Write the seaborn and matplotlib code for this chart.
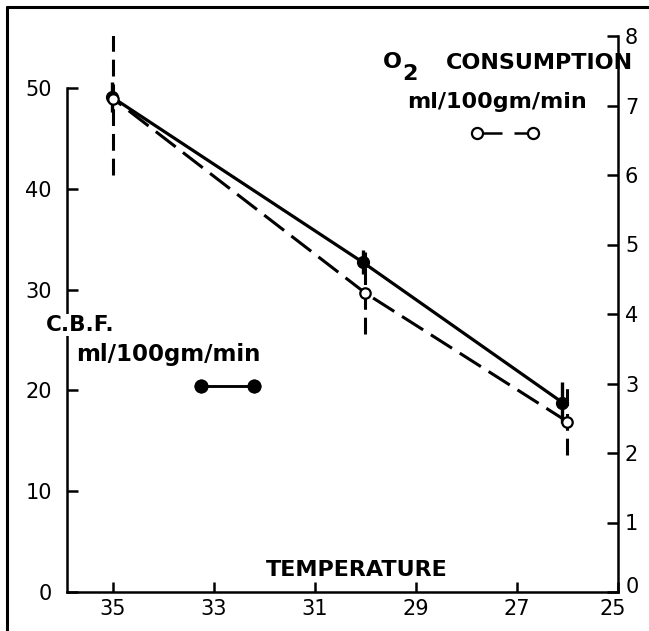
import matplotlib
matplotlib.use("Agg")
import matplotlib.pyplot as plt
import matplotlib.transforms as mtransforms
from matplotlib.lines import Line2D
import seaborn as sns

# values
temp_cbf = [35.02, 30.05, 26.1]
cbf = [49.1, 32.7, 18.8]
cbf_err = [1.5, 1.2, 2.0]

temp_o2 = [35.0, 30.0, 26.0]
o2 = [7.1, 4.3, 2.45]
o2_err = [1.1, 0.59, 0.48]

temp_ticks = [35, 33, 31, 29, 27, 25]
cbf_ticks = [0, 10, 20, 30, 40, 50]
o2_ticks = [0, 1, 2, 3, 4, 5, 6, 7, 8]

W, H = 649, 631

sns.set_style("ticks", {"axes.edgecolor": "k", "xtick.color": "k",
                        "ytick.color": "k", "text.color": "k",
                        "axes.labelcolor": "k"})
plt.rcParams['font.family'] = ['DejaVu Sans']


def fx(px):
    return px / W


def fy(py):
    return 1 - py / H


fig = plt.figure(figsize=(W / 100, H / 100), dpi=100)
ax = fig.add_axes([fx(67), fy(592), (618 - 67) / W, (592 - 36) / H])
ax2 = ax.twinx()

# C.B.F. (left axis, solid line, filled dots)
ax.errorbar(temp_cbf, cbf, yerr=cbf_err, fmt='none', ecolor='k',
            elinewidth=2.4, capsize=0, zorder=2)
sns.lineplot(x=temp_cbf, y=cbf, ax=ax, color='k', lw=2.3, marker='o',
             markersize=8.5, markerfacecolor='k', markeredgecolor='k',
             markeredgewidth=1, errorbar=None, zorder=3)

# O2 consumption (right axis, dashed line, open circles)
eb = ax2.errorbar(temp_o2, o2, yerr=o2_err, fmt='none', ecolor='k',
                  elinewidth=2.2, capsize=0, zorder=2)
for col in eb[2]:
    col.set_linestyle((0, (5.5, 2.6)))
sns.lineplot(x=temp_o2, y=o2, ax=ax2, color='k', lw=2.2, marker='o',
             markersize=7.5, markerfacecolor='white', markeredgecolor='k',
             markeredgewidth=1.6, linestyle=(0, (8.2, 3)), errorbar=None,
             zorder=3)

ax.set_xlim(35.91, 25)
ax.set_ylim(0, 55.16)
ax2.set_ylim(0, 8)
ax.set_xticks(temp_ticks)
ax.set_xticklabels([str(t) for t in temp_ticks])
ax.set_yticks(cbf_ticks)
ax.set_yticklabels([str(t) for t in cbf_ticks])
ax2.set_yticks(o2_ticks)
ax2.set_yticklabels([str(t) for t in o2_ticks])
ax.set_xlabel('')
ax.set_ylabel('')
ax2.set_ylabel('')

for s in ['top', 'right']:
    ax.spines[s].set_visible(False)
for s in ['top', 'left', 'bottom']:
    ax2.spines[s].set_visible(False)
ax.spines['left'].set_bounds(0, 50)
for s in ['left', 'bottom']:
    ax.spines[s].set_linewidth(1.8)
ax2.spines['right'].set_linewidth(1.8)

ax.tick_params(axis='x', direction='in', length=7, width=1.8, labelsize=15,
               pad=5, colors='k')
ax.tick_params(axis='y', direction='in', length=8, width=1.8, labelsize=15,
               pad=11, colors='k')
ax2.tick_params(axis='y', direction='in', length=8, width=1.8, labelsize=15,
                pad=5, colors='k')

# corner labels: "25" nudged left, right-hand "0" raised like the original
lab25 = ax.get_xticklabels()[-1]
lab25.set_transform(lab25.get_transform() + mtransforms.ScaledTranslation(
    -5 / 100, 0, fig.dpi_scale_trans))
lab0 = ax2.get_yticklabels()[0]
lab0.set_transform(lab0.get_transform() + mtransforms.ScaledTranslation(
    1 / 100, 7 / 100, fig.dpi_scale_trans))

# texts
bold = dict(fontweight='bold', color='k', va='center')
fig.text(fx(392), fy(62), 'O', ha='center', fontsize=16, **bold)
fig.text(fx(410), fy(74), '2', ha='center', fontsize=16, **bold)
fig.text(fx(539), fy(63), 'CONSUMPTION', ha='center', fontsize=16, **bold)
fig.text(fx(497), fy(102), 'ml/100gm/min', ha='center', fontsize=16, **bold)
fig.text(fx(80), fy(325), 'C.B.F.', ha='center', fontsize=15.5, zorder=5,
         bbox=dict(facecolor='white', edgecolor='none', pad=1), **bold)
fig.text(fx(168), fy(355), 'ml/100gm/min', ha='center', fontsize=16.5, **bold)
fig.text(fx(357), fy(570), 'TEMPERATURE', ha='center', fontsize=16, **bold)

# legend keys
cbf_key = Line2D([], [], color='k', lw=1.8, marker='o', ms=9)
o2_key = Line2D([], [], color='k', lw=1.8, ls=(0, (10, 4.8)), marker='o',
                ms=8, mfc='white', mec='k', mew=1.6)
leg1 = fig.legend(handles=[cbf_key], labels=[''], loc='center left',
                  bbox_to_anchor=(fx(197), fy(387)), frameon=False,
                  handlelength=4.42, numpoints=2, handletextpad=0,
                  borderpad=0, borderaxespad=0, fontsize=10)
fig.legend(handles=[o2_key], labels=[''], loc='center left',
           bbox_to_anchor=(fx(473), fy(134)), frameon=False,
           handlelength=4.63, numpoints=2, handletextpad=0,
           borderpad=0, borderaxespad=0, fontsize=10)
fig.add_artist(leg1)

# scan frame (top and left edges)
fig.add_artist(Line2D([fx(7), 1], [fy(7), fy(7)], transform=fig.transFigure,
                      color='k', lw=2.2))
fig.add_artist(Line2D([fx(7), fx(7)], [0, fy(7)], transform=fig.transFigure,
                      color='k', lw=2.2))

fig.savefig('out.png', dpi=100)
